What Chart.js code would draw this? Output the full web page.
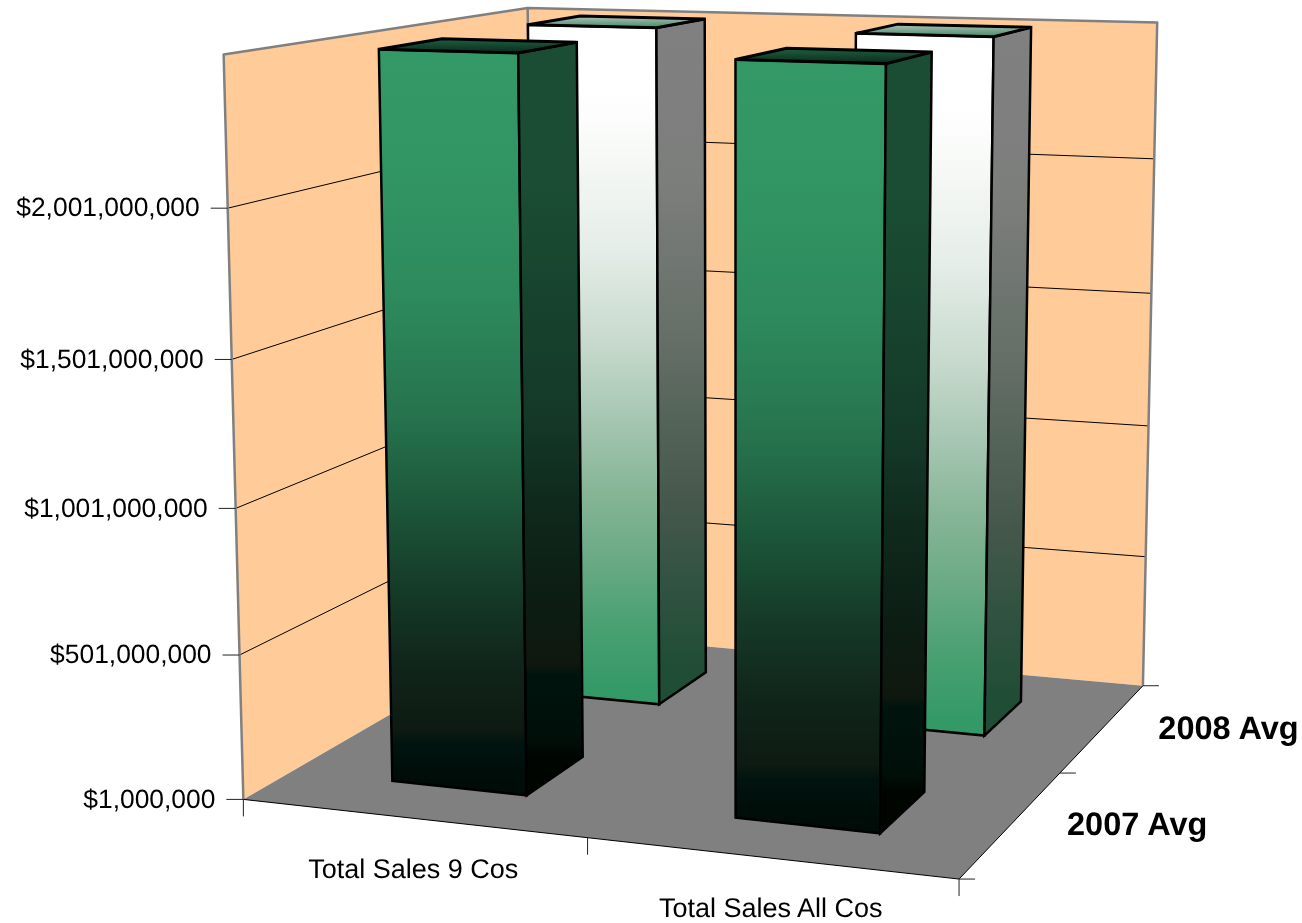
<!DOCTYPE html>
<html><head><meta charset="utf-8">
<style>html,body{margin:0;padding:0;background:#fff}#wrap{width:1302px;height:923px}canvas{display:block}</style>
<script src="https://cdn.jsdelivr.net/npm/chart.js@4"></script>
</head><body><div id="wrap"><canvas id="c" width="1302" height="923"></canvas></div>
<script>
const categories = ["Total Sales 9 Cos", "Total Sales All Cos"];
const seriesNames = ["2007 Avg", "2008 Avg"];
const avg2007 = [2501000000, 2500000000];
const avg2008 = [2501000000, 2499000000];
const yTickValues = [1000000, 501000000, 1001000000, 1501000000, 2001000000, 2501000000];
const yTickLabels = ["$1,000,000", "$501,000,000", "$1,001,000,000", "$1,501,000,000", "$2,001,000,000", ""];

// camera fit: unit cube (across, height, depth) -> page pixels
const anchors = [
 [0,0,0,243,800],[1,0,0,959,879],[1,0,1,1143,685],[0,0,1,535,631],
 [0,1,0,224,55],[0,1,1,527,8],[1,1,1,1158,22],
 [0,.2,0,239.3,655],[0,.4,0,235.6,508],[0,.6,0,231.8,359],[0,.8,0,228,208],
 [1,.2,1,1146,557],[1,.4,1,1148,427],[1,.6,1,1151,293],[1,.8,1,1154,159]
];
function fitCamera(pts){
  const n=11, A=Array.from({length:n},()=>new Array(n+1).fill(0));
  const add=(r,b)=>{for(let i=0;i<n;i++){for(let j=0;j<n;j++)A[i][j]+=r[i]*r[j];A[i][n]+=r[i]*b;}};
  for(const [u,t,v,x,y] of pts){
    add([u,t,v,1,0,0,0,0,-x*u,-x*t,-x*v],x);
    add([0,0,0,0,u,t,v,1,-y*u,-y*t,-y*v],y);
  }
  for(let i=0;i<n;i++){
    let p=i;for(let k=i+1;k<n;k++)if(Math.abs(A[k][i])>Math.abs(A[p][i]))p=k;
    [A[i],A[p]]=[A[p],A[i]];
    for(let k=0;k<n;k++){if(k===i)continue;const f=A[k][i]/A[i][i];for(let j=i;j<=n;j++)A[k][j]-=f*A[i][j];}
  }
  return A.map((r,i)=>r[n]/r[i]);
}
const cam=fitCamera(anchors);
function P(u,t,v){
  const w=cam[8]*u+cam[9]*t+cam[10]*v+1;
  return [(cam[0]*u+cam[1]*t+cam[2]*v+cam[3])/w,(cam[4]*u+cam[5]*t+cam[6]*v+cam[7])/w];
}
function poly(ctx,pts){ctx.beginPath();pts.forEach((p,i)=>i?ctx.lineTo(p[0],p[1]):ctx.moveTo(p[0],p[1]));ctx.closePath();}
function line(ctx,a,b){ctx.beginPath();ctx.moveTo(a[0],a[1]);ctx.lineTo(b[0],b[1]);ctx.stroke();}
function grad(ctx,a,b,stops){const g=ctx.createLinearGradient(a[0],a[1],b[0],b[1]);stops.forEach(s=>g.addColorStop(s[0],s[1]));return g;}
function tOf(chart,value){const s=chart.scales.y,ca=chart.chartArea;return (ca.bottom-s.getPixelForValue(value))/(ca.bottom-ca.top);}

const faceColours=[
 {front:[[0,"#339966"],[.14,"#329664"],[.34,"#2d8a5c"],[.5,"#26734e"],[.61,"#1d5a3c"],[.74,"#153a28"],[.84,"#10261a"],[.93,"#0e1a12"],[.95,"#00140f"],[1,"#000c08"]],
  side:[[0,"#1a4d33"],[.2,"#1a4d33"],[.53,"#143828"],[.64,"#0f2a1c"],[.78,"#0c1d13"],[.87,"#0f180f"],[.885,"#00140e"],[.98,"#000e08"],[1,"#000500"]],
  top:[[0,"#0a2a1c"],[1,"#1f6040"]]},
 {front:[[0,"#ffffff"],[.1,"#ffffff"],[.18,"#f8faf8"],[.33,"#e6eee9"],[.48,"#c6d9cc"],[.58,"#a9c8b5"],[.7,"#86b596"],[.79,"#6dab86"],[.905,"#48a071"],[1,"#339966"]],
  side:[[0,"#808080"],[.25,"#7c7e7c"],[.5,"#646e66"],[.61,"#556459"],[.73,"#47584c"],[.88,"#2f5240"],[1,"#1f4d35"]],
  top:[[0,"#3f8a66"],[1,"#b4c2bb"]]}
];

const scene3d={
  id:"scene3d",
  beforeDatasetsDraw(chart){
    const ctx=chart.ctx;ctx.save();
    ctx.lineCap="butt";ctx.lineJoin="round";
    if("textRendering" in ctx)ctx.textRendering="geometricPrecision";
    // walls
    ctx.fillStyle="#FFCC99";
    poly(ctx,[P(0,0,0),P(0,1,0),P(0,1,1),P(0,0,1)]);ctx.fill();
    poly(ctx,[P(0,0,1),P(0,1,1),P(1,1,1),P(1,0,1)]);ctx.fill();
    // gridlines
    ctx.strokeStyle="#000";ctx.lineWidth=1;
    yTickValues.slice(1,-1).forEach(val=>{
      const t=tOf(chart,val);
      ctx.beginPath();const a=P(0,t,0),b=P(0,t,1),c=P(1,t,1);
      ctx.moveTo(a[0],a[1]);ctx.lineTo(b[0],b[1]);ctx.lineTo(c[0],c[1]);ctx.stroke();
    });
    // wall edges
    ctx.strokeStyle="#808080";ctx.lineWidth=2.5;
    ctx.beginPath();
    let a=P(0,0,0),b=P(0,1,0),c=P(0,1,1),d=P(1,1,1),e=P(1,0,1),f=P(0,0,1);
    ctx.moveTo(a[0],a[1]);ctx.lineTo(b[0],b[1]);ctx.lineTo(c[0],c[1]);ctx.lineTo(d[0],d[1]);ctx.lineTo(e[0],e[1]);
    ctx.moveTo(c[0],c[1]);ctx.lineTo(f[0],f[1]);ctx.stroke();
    // floor
    ctx.fillStyle="#808080";
    poly(ctx,[P(0,0,0),P(1,0,0),P(1,0,1),P(0,0,1)]);ctx.fill();
    ctx.strokeStyle="#000";ctx.lineWidth=1;
    ctx.beginPath();a=P(0,0,0);b=P(1,0,0);c=P(1,0,1);
    ctx.moveTo(a[0],a[1]);ctx.lineTo(b[0],b[1]);ctx.lineTo(c[0],c[1]);ctx.stroke();
    // ticks
    ctx.strokeStyle="#222";
    yTickValues.slice(0,-1).forEach(val=>{const p=P(0,tOf(chart,val),0);line(ctx,[p[0]-17,p[1]],p);});
    [0,.5,1].forEach(u=>{const p=P(u,0,0);line(ctx,p,[p[0],p[1]+17]);});
    [0,.5,1].forEach(v=>{const p=P(1,0,v);line(ctx,p,[p[0]+16,p[1]]);});
    // labels
    ctx.fillStyle="#000";ctx.textBaseline="middle";
    ctx.font='26.4px "Liberation Sans", Arial, sans-serif';ctx.textAlign="right";
    yTickValues.forEach((val,i)=>{const p=P(0,tOf(chart,val),0);if(yTickLabels[i])ctx.fillText(yTickLabels[i],p[0]-28,p[1]+1);});
    ctx.font='27px "Liberation Sans", Arial, sans-serif';ctx.textAlign="center";
    categories.forEach((lab,i)=>{const p=P((i+.5)/categories.length,0,0);ctx.fillText(lab,p[0]+1,p[1]+52);});
    ctx.font='bold 32.5px "Liberation Sans", Arial, sans-serif';ctx.textAlign="left";
    seriesNames.forEach((lab,i)=>{const p=P(1,0,(i+.5)/seriesNames.length);ctx.fillText(lab,p[0]+55,p[1]+3);});
    ctx.restore();
  },
  beforeDatasetDraw(chart,args){
    const ctx=chart.ctx,ca=chart.chartArea,W=ca.right-ca.left,H=ca.bottom-ca.top;
    const meta=args.meta,ds=args.index,n=chart.data.datasets.length,col=faceColours[ds];
    const v0=(ds+.5)/n-.1,v1=(ds+.5)/n+.1;
    ctx.save();ctx.lineJoin="miter";ctx.miterLimit=3;ctx.strokeStyle="#000";
    meta.data.forEach(el=>{
      const u0=(el.x-el.width/2-ca.left)/W,u1=(el.x+el.width/2-ca.left)/W;
      const t=(ca.bottom-el.y)/H,b=(ca.bottom-el.base)/H;
      const A=P(u0,b,v0),B=P(u1,b,v0),C=P(u1,b,v1),E=P(u0,t,v0),F=P(u1,t,v0),G=P(u1,t,v1),K=P(u0,t,v1);
      ctx.lineWidth=2.5;
      ctx.fillStyle=grad(ctx,[E[0],E[1]],[E[0],A[1]],col.front);
      poly(ctx,[E,F,B,A]);ctx.fill();ctx.stroke();
      ctx.fillStyle=grad(ctx,[G[0],G[1]],[G[0],C[1]],col.side);
      poly(ctx,[F,G,C,B]);ctx.fill();ctx.stroke();
      ctx.lineWidth=3;
      ctx.fillStyle=grad(ctx,[K[0],F[1]],[K[0],K[1]],col.top);
      poly(ctx,[E,F,G,K]);ctx.fill();ctx.stroke();
    });
    ctx.restore();
    return false;
  }
};

new Chart(document.getElementById("c"),{
  type:"bar",
  data:{labels:categories,datasets:[
    {label:seriesNames[0],data:avg2007,backgroundColor:"#339966",borderColor:"#000"},
    {label:seriesNames[1],data:avg2008,backgroundColor:"#FFFFFF",borderColor:"#000"}
  ]},
  options:{
    responsive:false,animation:false,
    layout:{padding:0},
    datasets:{bar:{grouped:false,barPercentage:.4,categoryPercentage:1}},
    plugins:{legend:{display:false},tooltip:{enabled:false},title:{display:false}},
    scales:{
      x:{display:false,offset:true},
      y:{display:false,min:yTickValues[0],max:yTickValues[yTickValues.length-1],
         afterBuildTicks(s){s.ticks=yTickValues.map(value=>({value}));}}
    }
  },
  plugins:[scene3d]
});
</script></body></html>
